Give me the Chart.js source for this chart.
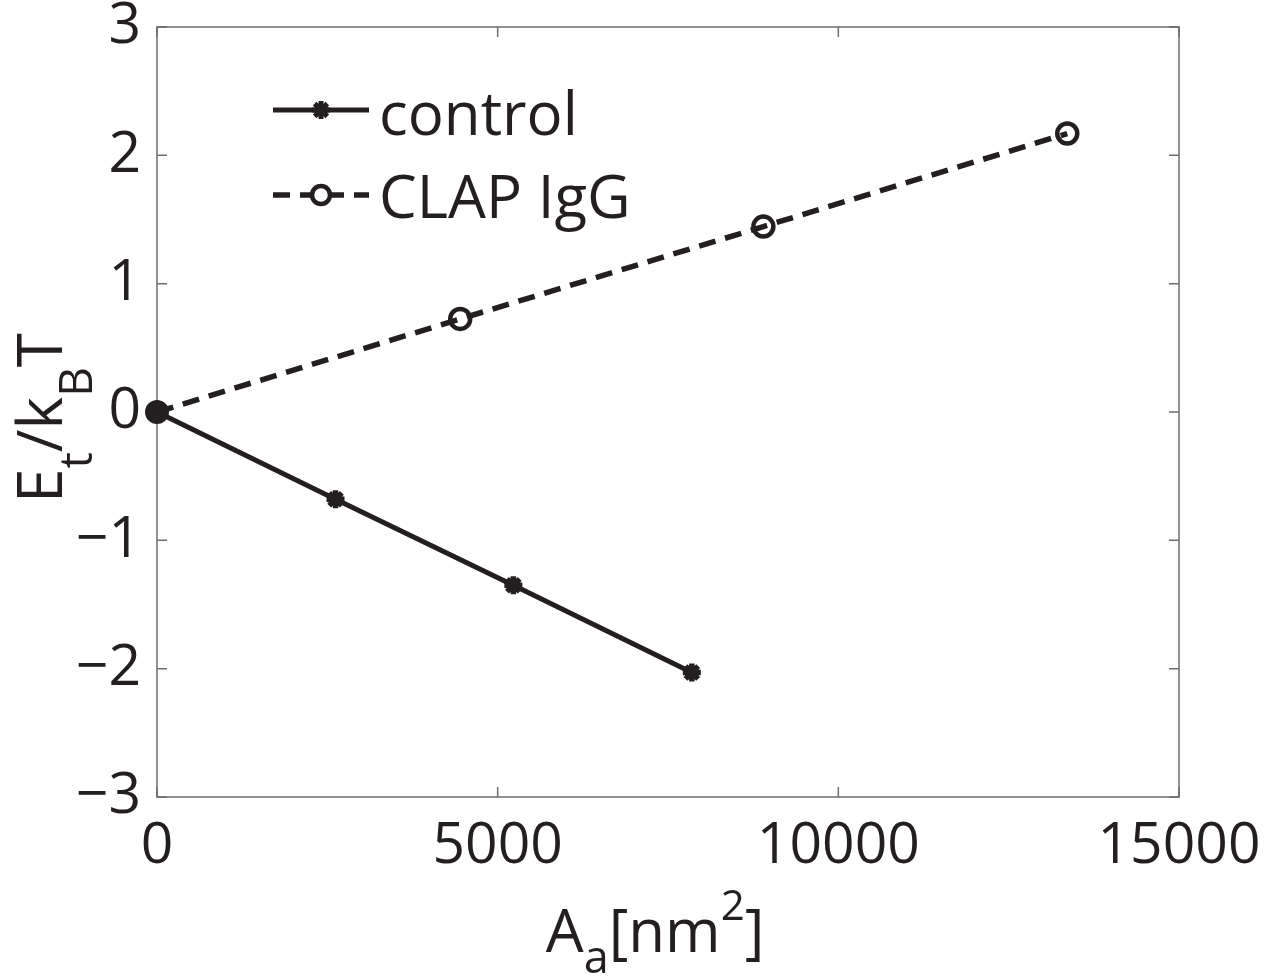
<!DOCTYPE html>
<html>
<head>
<meta charset="utf-8">
<script src="https://cdn.jsdelivr.net/npm/chart.js@4.4.1/dist/chart.umd.min.js"></script>
<style>
  html, body { margin: 0; padding: 0; background: #fff; }
  #wrap { width: 1269px; height: 979px; }
</style>
</head>
<body>
<div id="wrap"><canvas id="energyChart" width="1269" height="979"></canvas></div>
<script>
// values
const controlX = [0, 2620, 5230, 7850];
const controlY = [0, -0.68, -1.35, -2.03];
const clapX = [0, 4450, 8900, 13360];
const clapY = [0, 0.725, 1.445, 2.17];
const originX = [0];
const originY = [0];
const seriesNames = ['control', 'CLAP IgG'];
const xTicks = [0, 5000, 10000, 15000];
const yTicks = [-3, -2, -1, 0, 1, 2, 3];

const ink = '#231f20';
const FONT = "'Open Sans', sans-serif";

function toPoints(xs, ys) {
  return xs.map((x, i) => ({ x: x, y: ys[i] }));
}

function minusSign(v) {
  return String(v).replace('-', '\u2212');
}

// text with sub/superscripts, centred on x, baseline y
function drawRich(ctx, pieces, x, y) {
  let total = 0;
  pieces.forEach(p => {
    ctx.font = p[1] + 'px ' + FONT;
    total += ctx.measureText(p[0]).width;
  });
  let cx = x - total / 2;
  ctx.textAlign = 'left';
  ctx.textBaseline = 'alphabetic';
  pieces.forEach(p => {
    ctx.font = p[1] + 'px ' + FONT;
    ctx.fillText(p[0], cx, y + p[2]);
    cx += ctx.measureText(p[0]).width;
  });
}

const framePlugin = {
  id: 'frame',
  beforeDatasetsDraw(chart) {
    const ctx = chart.ctx;
    const a = chart.chartArea;
    const xs = chart.scales.x, ys = chart.scales.y;
    ctx.save();
    ctx.strokeStyle = '#6d6e71';
    ctx.lineWidth = 1.5;
    ctx.strokeRect(a.left, a.top, a.right - a.left, a.bottom - a.top);
    ctx.beginPath();
    xTicks.forEach(v => {
      const px = xs.getPixelForValue(v);
      ctx.moveTo(px, a.bottom); ctx.lineTo(px, a.bottom - 10);
      ctx.moveTo(px, a.top); ctx.lineTo(px, a.top + 10);
    });
    yTicks.forEach(v => {
      const py = ys.getPixelForValue(v);
      ctx.moveTo(a.left, py); ctx.lineTo(a.left + 10, py);
      ctx.moveTo(a.right, py); ctx.lineTo(a.right - 10, py);
    });
    ctx.stroke();
    ctx.restore();
  },
  afterDraw(chart) {
    const ctx = chart.ctx;
    ctx.save();
    ctx.fillStyle = ink;
    // x axis title
    drawRich(ctx, [['A', 60, 0], ['a', 45, 21], ['[nm', 60, 0], ['2', 42, -32], [']', 60, 0]], 655, 952);
    // y axis title
    ctx.translate(62, 418);
    ctx.rotate(-Math.PI / 2);
    drawRich(ctx, [['E', 62, 0], ['t', 46, 30], ['/k', 62, 0], ['B', 46, 30], ['T', 62, 0]], 0, 0);
    ctx.restore();

    // legend
    ctx.save();
    ctx.strokeStyle = ink;
    ctx.fillStyle = ink;
    const rows = [110, 195];
    // control sample
    ctx.lineWidth = 5;
    ctx.beginPath();
    ctx.moveTo(273, rows[0]); ctx.lineTo(369, rows[0]);
    ctx.stroke();
    ctx.lineWidth = 5;
    ctx.beginPath();
    for (let k = 0; k < 4; k++) {
      const ang = k * Math.PI / 4;
      ctx.moveTo(321 - 9 * Math.cos(ang), rows[0] - 9 * Math.sin(ang));
      ctx.lineTo(321 + 9 * Math.cos(ang), rows[0] + 9 * Math.sin(ang));
    }
    ctx.stroke();
    // CLAP sample
    ctx.lineWidth = 5.5;
    ctx.setLineDash([17, 10]);
    ctx.beginPath();
    ctx.moveTo(273, rows[1]); ctx.lineTo(369, rows[1]);
    ctx.stroke();
    ctx.setLineDash([]);
    ctx.fillStyle = '#fff';
    ctx.beginPath();
    ctx.arc(321, rows[1], 9, 0, Math.PI * 2);
    ctx.fill();
    ctx.lineWidth = 4.5;
    ctx.stroke();
    ctx.fillStyle = ink;
    ctx.font = '60px ' + FONT;
    ctx.textAlign = 'left';
    ctx.textBaseline = 'alphabetic';
    ctx.fillText(seriesNames[0], 379, 135);
    ctx.fillText(seriesNames[1], 379, 218);
    ctx.restore();
  }
};

const ctx = document.getElementById('energyChart').getContext('2d');
const energyChart = new Chart(ctx, {
  type: 'scatter',
  data: {
    datasets: [{
      label: seriesNames[0],
      data: toPoints(controlX, controlY),
      showLine: true,
      borderColor: ink,
      borderWidth: 5,
      pointStyle: 'star',
      pointRadius: c => (c.dataIndex === 0 ? 0 : 9),
      pointBorderWidth: 5.5,
      pointBorderColor: ink,
      pointBackgroundColor: ink,
      clip: false
    }, {
      label: seriesNames[1],
      data: toPoints(clapX, clapY),
      showLine: true,
      borderColor: ink,
      borderWidth: 5.5,
      borderDash: [17, 10],
      pointStyle: 'circle',
      pointRadius: c => (c.dataIndex === 0 ? 0 : 10),
      pointBorderWidth: 4.5,
      pointBorderColor: ink,
      pointBackgroundColor: 'rgba(0,0,0,0)',
      clip: false
    }, {
      label: 'origin',
      data: toPoints(originX, originY),
      showLine: false,
      pointStyle: 'circle',
      pointRadius: 12,
      pointBorderWidth: 0,
      pointBackgroundColor: ink,
      clip: false
    }]
  },
  options: {
    responsive: false,
    animation: false,
    layout: { padding: { top: 27, right: 90, left: 0, bottom: 0 } },
    plugins: {
      legend: { display: false },
      tooltip: { enabled: false }
    },
    scales: {
      x: {
        type: 'linear',
        min: 0,
        max: 15000,
        afterBuildTicks: s => { s.ticks = xTicks.map(v => ({ value: v })); },
        afterFit: s => { s.height = 182; s.paddingLeft = 0; s.paddingRight = 0; },
        grid: { display: false, drawTicks: false },
        border: { display: false },
        ticks: {
          color: ink,
          padding: 16,
          maxRotation: 0,
          font: { family: FONT, size: 57 },
          callback: v => minusSign(v)
        }
      },
      y: {
        min: -3,
        max: 3,
        afterBuildTicks: s => { s.ticks = yTicks.map(v => ({ value: v })); },
        afterFit: s => { s.width = 157; s.paddingTop = 0; s.paddingBottom = 0; },
        grid: { display: false, drawTicks: false },
        border: { display: false },
        ticks: {
          color: ink,
          padding: 16,
          font: { family: FONT, size: 57 },
          callback: v => minusSign(v)
        }
      }
    }
  },
  plugins: [framePlugin]
});
</script>
</body>
</html>
